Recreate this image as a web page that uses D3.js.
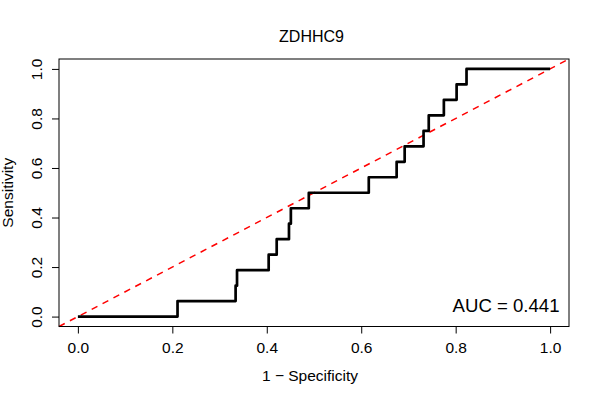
<!DOCTYPE html>
<html>
<head>
<meta charset="utf-8">
<script src="https://cdn.jsdelivr.net/npm/d3@7"></script>
<style>
	body { margin: 0; background: #fff; }
	svg { display: block; }
	text { font-family: "Liberation Sans", Arial, Helvetica, sans-serif; fill: #000; }
</style>
</head>
<body>
<div id="chart"></div>
<script>
// ROC points, stepped horizontally then vertically
let fpr = [ 0, 0.211, 0.334, 0.337, 0.404, 0.421, 0.447, 0.451, 0.489,
		0.616, 0.675, 0.692, 0.732, 0.743, 0.775, 0.802, 0.823, 1.0 ],
	tpr = [ 0, 0.0625, 0.125, 0.1875, 0.25, 0.3125, 0.375, 0.4375, 0.5,
		0.5625, 0.625, 0.6875, 0.75, 0.8125, 0.875, 0.9375, 1.0, 1.0 ],
	xTicks = [ 0, 0.2, 0.4, 0.6, 0.8, 1.0 ],
	yTicks = [ 0, 0.2, 0.4, 0.6, 0.8, 1.0 ],
	title = 'ZDHHC9',
	xLabel = '1 \u2212 Specificity',
	yLabel = 'Sensitivity',
	aucLabel = 'AUC = 0.441';

let width = 600,
	height = 400,
	// plot box edges in pixels
	box = { left: 59, right: 569, top: 59, bottom: 326.5 },
	baseFont = 15.5,

	svg = d3.select( '#chart' )
		.append( 'svg' )
		.attr( 'width', width )
		.attr( 'height', height ),

	// R pads the range by 4% on each side
	x = d3.scaleLinear().domain( [ -0.04, 1.04 ] ).range( [ box.left, box.right ] ),
	y = d3.scaleLinear().domain( [ -0.04, 1.04 ] ).range( [ box.bottom, box.top ] );

// diagonal reference line
svg.append( 'line' )
	.attr( 'x1', x( -0.04 ) ).attr( 'y1', y( -0.04 ) )
	.attr( 'x2', x( 1.04 ) ).attr( 'y2', y( 1.04 ) )
	.attr( 'stroke', '#ff0000' )
	.attr( 'stroke-width', 1.5 )
	.attr( 'stroke-dasharray', '6.5,5.8' );

// ROC curve
let points = fpr.map( ( d, i ) => [ d, tpr[ i ] ] ),
	line = d3.line()
		.x( d => x( d[ 0 ] ) )
		.y( d => y( d[ 1 ] ) )
		.curve( d3.curveStepAfter );

svg.append( 'path' )
	.datum( points )
	.attr( 'd', line )
	.attr( 'fill', 'none' )
	.attr( 'stroke', '#000' )
	.attr( 'stroke-width', 2.7 )
	.attr( 'stroke-linejoin', 'round' );

// box
svg.append( 'rect' )
	.attr( 'x', box.left )
	.attr( 'y', box.top )
	.attr( 'width', box.right - box.left )
	.attr( 'height', box.bottom - box.top )
	.attr( 'fill', 'none' )
	.attr( 'stroke', '#000' )
	.attr( 'stroke-width', 1 );

// x axis
let gx = svg.append( 'g' )
	.attr( 'transform', `translate(0,${ box.bottom })` )
	.call( d3.axisBottom( x ).tickValues( xTicks ).tickSize( 7 ).tickPadding( 8.5 ).tickFormat( d3.format( '.1f' ) ) );
gx.select( '.domain' ).remove();
gx.selectAll( 'text' )
	.attr( 'font-size', baseFont + 'px' )
	.attr( 'font-family', null );

// y axis, labels turned like R's las = 0
let gy = svg.append( 'g' )
	.attr( 'transform', `translate(${ box.left },0)` )
	.call( d3.axisLeft( y ).tickValues( yTicks ).tickSize( 7 ).tickFormat( d3.format( '.1f' ) ) );
gy.select( '.domain' ).remove();
gy.selectAll( 'text' )
	.attr( 'x', null )
	.attr( 'dy', null )
	.attr( 'text-anchor', 'middle' )
	.attr( 'transform', 'translate(-17.3,0) rotate(-90)' )
	.attr( 'font-size', baseFont + 'px' )
	.attr( 'font-family', null );

// title and labels
svg.append( 'text' )
	.attr( 'x', 311.5 )
	.attr( 'y', 41.5 )
	.attr( 'text-anchor', 'middle' )
	.attr( 'font-size', '16px' )
	.text( title );

svg.append( 'text' )
	.attr( 'x', 310 )
	.attr( 'y', 381 )
	.attr( 'text-anchor', 'middle' )
	.attr( 'font-size', baseFont + 'px' )
	.text( xLabel );

svg.append( 'text' )
	.attr( 'transform', `translate(12.5,${ ( box.top + box.bottom ) / 2 }) rotate(-90)` )
	.attr( 'text-anchor', 'middle' )
	.attr( 'font-size', baseFont + 'px' )
	.text( yLabel );

svg.append( 'text' )
	.attr( 'x', x( 1.02 ) )
	.attr( 'y', 312 )
	.attr( 'text-anchor', 'end' )
	.attr( 'font-size', '18.6px' )
	.text( aucLabel );
</script>
</body>
</html>
